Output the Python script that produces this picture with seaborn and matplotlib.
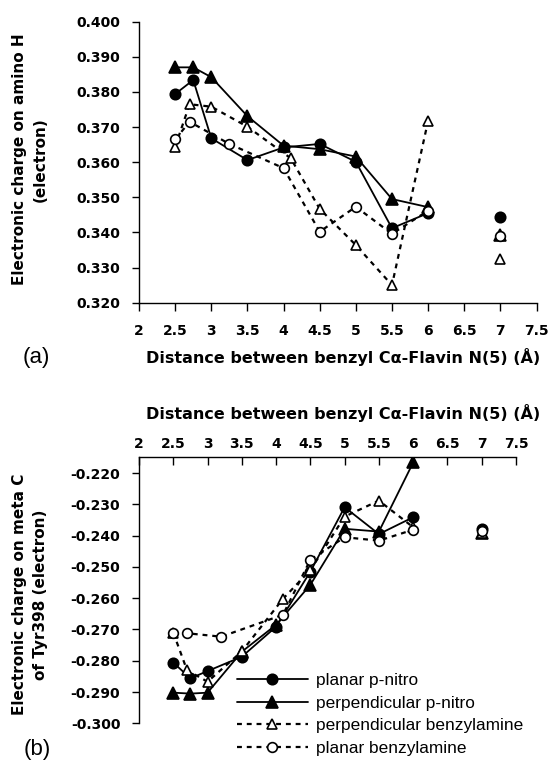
import numpy as np
import pandas as pd
import matplotlib
matplotlib.use("Agg")
import matplotlib.pyplot as plt
import seaborn as sns

# distances (angstrom)
x_pn = [2.5, 2.75, 3.0, 3.5, 4.0, 4.5, 5.0, 5.5, 6.0, 7.0]
x_perp_bz = [2.5, 2.7, 3.0, 3.5, 4.1, 4.5, 5.0, 5.5, 6.0, 7.0]
x_plan_bz_a = [2.5, 2.7, 3.25, 4.0, 4.5, 5.0, 5.5, 6.0, 7.0]
x_plan_bz_b = [2.5, 2.7, 3.2, 4.1, 4.5, 5.0, 5.5, 6.0, 7.0]

# (a) charge on amino H
a_planar_pnitro = [0.3794, 0.3834, 0.3668, 0.3606, 0.3642, 0.3652, 0.3601, 0.3412, 0.3455, 0.3445]
a_perp_pnitro = [0.3870, 0.3870, 0.3842, 0.3731, 0.3647, 0.3637, 0.3616, 0.3495, 0.3472, 0.3393]
a_perp_benzyl = [0.3644, 0.3765, 0.3758, 0.3701, 0.3611, 0.3467, 0.3364, 0.3250, 0.3718, 0.3325]
a_planar_benzyl = [0.3665, 0.3715, 0.3652, 0.3583, 0.3402, 0.3473, 0.3396, 0.3462, 0.3390]

# (b) charge on meta C of Tyr398
b_planar_pnitro = [-0.2806, -0.2856, -0.2833, -0.2787, -0.2691, -0.2515, -0.2309, -0.2395, -0.2341, -0.2380]
b_perp_pnitro = [-0.2902, -0.2905, -0.2902, -0.2771, -0.2685, -0.2557, -0.2378, -0.2387, -0.2166, -0.2392]
b_perp_benzyl = [-0.2710, -0.2830, -0.2867, -0.2770, -0.2602, -0.2510, -0.2339, -0.2288, -0.2373, -0.2392]
b_planar_benzyl = [-0.2710, -0.2712, -0.2723, -0.2653, -0.2477, -0.2405, -0.2416, -0.2381, -0.2385]

labels = ["planar p-nitro", "perpendicular p-nitro",
          "perpendicular benzylamine", "planar benzylamine"]
xticks = [2, 2.5, 3, 3.5, 4, 4.5, 5, 5.5, 6, 6.5, 7, 7.5]
xlabel = "Distance between benzyl C\u03b1-Flavin N(5) (\u00c5)"

sns.set_theme(style="white")
plt.rcParams['font.family'] = ['DejaVu Sans']
plt.rcParams['axes.unicode_minus'] = False
for key in ["text.color", "axes.labelcolor", "xtick.color", "ytick.color", "axes.edgecolor"]:
    plt.rcParams[key] = "black"

styles = [
    dict(marker="o", linestyle="-", lw=1.3, mfc="black", ms=7.5),
    dict(marker="^", linestyle="-", lw=1.3, mfc="black", ms=8),
    dict(marker="^", linestyle=(0, (2.2, 2.2)), lw=1.6, mfc="white", ms=7.5),
    dict(marker="o", linestyle=(0, (2.2, 2.2)), lw=1.6, mfc="white", ms=7),
]


def draw_series(ax, xs, ys, st, label):
    df = pd.DataFrame({"x": xs, "y": ys})
    joined = df[df["x"] <= 6]
    sns.lineplot(x="x", y="y", data=joined, ax=ax, sort=False, color="black",
                 marker=st["marker"], linestyle=st["linestyle"], lw=st["lw"],
                 markerfacecolor=st["mfc"], markeredgecolor="black",
                 markeredgewidth=1.2, markersize=st["ms"], label=label)
    # the 7 A point is not connected
    alone = df[df["x"] > 6]
    ax.plot(alone["x"], alone["y"], linestyle="none", marker=st["marker"],
            markerfacecolor=st["mfc"], markeredgecolor="black",
            markeredgewidth=1.2, markersize=st["ms"])


fig = plt.figure(figsize=(5.53, 7.69), dpi=100)
ax1 = fig.add_axes([0.2514, 0.6064, 0.7188, 0.3654])
ax2 = fig.add_axes([0.2514, 0.0594, 0.6817, 0.3457])

top_data = [(x_pn, a_planar_pnitro), (x_pn, a_perp_pnitro),
            (x_perp_bz, a_perp_benzyl), (x_plan_bz_a, a_planar_benzyl)]
bot_data = [(x_pn, b_planar_pnitro), (x_pn, b_perp_pnitro),
            (x_perp_bz, b_perp_benzyl), (x_plan_bz_b, b_planar_benzyl)]

for (xs, ys), st, lab in zip(top_data, styles, labels):
    draw_series(ax1, xs, ys, st, lab)
for (xs, ys), st, lab in zip(bot_data, styles, labels):
    draw_series(ax2, xs, ys, st, lab)

tick_font = dict(fontsize=10, fontweight="bold")
label_font = dict(fontsize=11.5, fontweight="bold")

# panel (a)
ax1.set_xlim(2, 7.5)
ax1.set_ylim(0.320, 0.400)
ax1.set_xticks(xticks)
ax1.set_xticklabels([f"{t:g}" for t in xticks], **tick_font)
ya = np.arange(0.320, 0.4001, 0.010)
ax1.set_yticks(ya)
ax1.set_yticklabels([f"{t:.3f}" for t in ya], **tick_font)
for s in ["top", "right"]:
    ax1.spines[s].set_visible(False)
for s in ["left", "bottom"]:
    ax1.spines[s].set_linewidth(1.0)
ax1.tick_params(axis="x", direction="out", length=6, width=1, pad=9, bottom=True)
ax1.tick_params(axis="y", direction="out", length=5, width=1, pad=8.5, left=True)
ax1.set_xlabel(xlabel, va="center", **label_font)
ax1.xaxis.set_label_coords(0.513, -0.193)
ax1.set_ylabel("Electronic charge on amino H\n(electron)", fontsize=11,
               fontweight="bold", va="center", linespacing=1.45)
ax1.yaxis.set_label_coords(-0.274, 0.51)
ax1.legend().remove()

# panel (b)
ax2.set_xlim(2, 7.5)
ax2.set_ylim(-0.300, -0.215)
ax2.xaxis.tick_top()
ax2.xaxis.set_label_position("top")
ax2.set_xticks(xticks)
ax2.set_xticklabels([f"{t:g}" for t in xticks], **tick_font)
yb = np.arange(-0.300, -0.2195, 0.010)
ax2.set_yticks(yb)
ax2.set_yticklabels([f"{t:.3f}" for t in yb], **tick_font)
for s in ["bottom", "right"]:
    ax2.spines[s].set_visible(False)
for s in ["left", "top"]:
    ax2.spines[s].set_linewidth(1.0)
ax2.tick_params(axis="x", direction="in", length=6, width=1, pad=5, top=True)
ax2.tick_params(axis="y", direction="out", length=5, width=1, pad=8.5, left=True)
ax2.set_xlabel(xlabel, va="center", **label_font)
ax2.xaxis.set_label_coords(0.541, 1.168)
ax2.set_ylabel("Electronic charge on meta C\nof Tyr398 (electron)", fontsize=11,
               fontweight="bold", va="center", linespacing=1.45)
ax2.yaxis.set_label_coords(-0.289, 0.485)

handles, labs = ax2.get_legend_handles_labels()
ax2.legend(handles, labs, loc="upper left", bbox_to_anchor=(237 / 553, 1 - 673 / 769),
           bbox_transform=fig.transFigure, frameon=False, handlelength=4.1,
           numpoints=1, labelspacing=0.44, borderaxespad=0, borderpad=0,
           handletextpad=0.5, prop=dict(family="Liberation Sans", size=12.4))

fig.text(36 / 553, 1 - 357 / 769, "(a)", fontsize=16, family="Liberation Sans",
         ha="center", va="center")
fig.text(37 / 553, 1 - 750 / 769, "(b)", fontsize=16, family="Liberation Sans",
         ha="center", va="center")

fig.savefig("out.png", dpi=100)
